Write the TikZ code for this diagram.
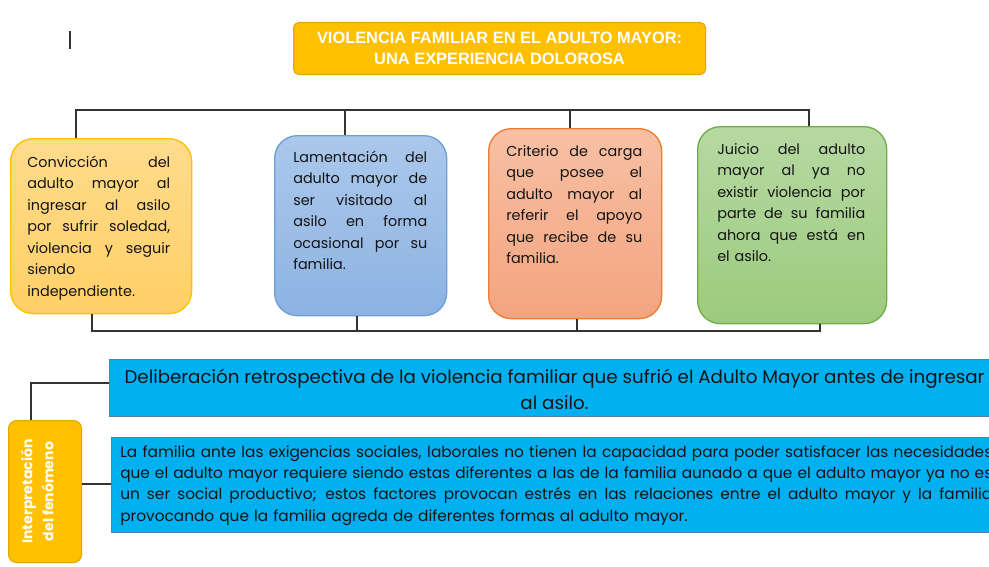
\documentclass[tikz,border=0pt]{standalone}
\usepackage{fontspec}
\setmainfont{Poppins}
\newfontfamily\titlefont{Liberation Sans}
\newlength\jw
\newcommand\jl[1]{\leavevmode\hbox to \jw{\spaceskip=\fontdimen2\font plus 1fil minus \fontdimen4\font\relax #1}}
\definecolor{gold}{HTML}{FFC000}
\definecolor{goldedge}{HTML}{E0A800}
\definecolor{cyanbox}{HTML}{00B0F0}
\definecolor{cyanedge}{HTML}{5A7FA6}
\definecolor{linec}{HTML}{333333}
\definecolor{txt}{HTML}{141414}
\definecolor{yTop}{HTML}{FFDB8C}
\definecolor{yBot}{HTML}{FFD066}
\definecolor{bEdge}{HTML}{6C9FD6}
\definecolor{bTop}{HTML}{ABC8EB}
\definecolor{bBot}{HTML}{8DB3E2}
\definecolor{oEdge}{HTML}{ED7D31}
\definecolor{oTop}{HTML}{F7C0A4}
\definecolor{oBot}{HTML}{F4A47F}
\definecolor{gEdge}{HTML}{70AD47}
\definecolor{gTop}{HTML}{B6D9A2}
\definecolor{gBot}{HTML}{9CCA7D}
\begin{document}
\begin{tikzpicture}[x=0.75pt,y=-0.75pt,
  conn/.style={draw=linec, line width=1pt},
  card/.style={draw, rounded corners=17pt, line width=1pt, anchor=north west, inner sep=0pt},
  cardtext/.style={anchor=north west, inner sep=0pt, align=left, text=txt,
    font=\fontsize{10.8}{16.1}\selectfont},
  bluebox/.style={draw=cyanedge, fill=cyanbox, line width=0.8pt, anchor=north west, inner sep=0pt},
]
\useasboundingbox (0,0) rectangle (989,567);
\fill[white] (0,0) rectangle (989,567);

% cursor mark
\draw[line width=1pt, black!80] (70,31) -- (70,49);

% title
\node[draw=goldedge, fill=gold, rounded corners=4pt, line width=0.8pt, anchor=north west, inner sep=0pt,
  minimum width={412*0.75pt}, minimum height={52*0.75pt}] (title) at (293,22) {};
\node[text=white, align=center, inner sep=0pt, font=\titlefont\bfseries\fontsize{12.3}{15.6}\selectfont]
  (titletext) at (title.center) {VIOLENCIA FAMILIAR EN EL ADULTO MAYOR:\\UNA EXPERIENCIA DOLOROSA};

% four cards
\node[card, draw=gold, top color=yTop, bottom color=yBot,
  minimum width={181*0.75pt}, minimum height={175*0.75pt}] (b1) at (10,138) {};
\node[card, draw=bEdge, top color=bTop, bottom color=bBot,
  minimum width={172*0.75pt}, minimum height={180*0.75pt}] (b2) at (274,135) {};
\node[card, draw=oEdge, top color=oTop, bottom color=oBot,
  minimum width={173*0.75pt}, minimum height={190*0.75pt}] (b3) at (488,128) {};
\node[card, draw=gEdge, top color=gTop, bottom color=gBot,
  minimum width={189*0.75pt}, minimum height={197*0.75pt}] (b4) at (697,126) {};

\node[cardtext, text width={143*0.75pt}, execute at begin node={\setlength\jw{107.25pt}}] (t1) at (27,152)
  {\strut\jl{Convicción del}\\\jl{adulto mayor al}\\\jl{ingresar al asilo}\\\jl{por sufrir soledad,}\\\jl{violencia y seguir}\\siendo\\independiente.};
\node[cardtext, text width={134*0.75pt}, execute at begin node={\setlength\jw{100.5pt}}] (t2) at (293,147)
  {\strut\jl{Lamentación del}\\\jl{adulto mayor de}\\\jl{ser visitado al}\\\jl{asilo en forma}\\\jl{ocasional por su}\\familia.};
\node[cardtext, text width={136*0.75pt}, execute at begin node={\setlength\jw{102pt}}] (t3) at (506,141)
  {\strut\jl{Criterio de carga}\\\jl{que posee el}\\\jl{adulto mayor al}\\\jl{referir el apoyo}\\\jl{que recibe de su}\\familia.};
\node[cardtext, text width={148*0.75pt}, execute at begin node={\setlength\jw{111pt}}] (t4) at (717,139)
  {\strut\jl{Juicio del adulto}\\\jl{mayor al ya no}\\\jl{existir violencia por}\\\jl{parte de su familia}\\\jl{ahora que está en}\\el asilo.};

% top bus
\coordinate (u1) at (76,110);
\coordinate (u2) at (345,110);
\coordinate (u3) at (570,110);
\coordinate (u4) at (809,110);
\draw[conn] (b1.north -| u1) -- (u1) -- (u4) -- (b4.north -| u4);
\draw[conn] (u2) -- (b2.north -| u2);
\draw[conn] (u3) -- (b3.north -| u3);

% bottom bus
\coordinate (d1) at (92,331);
\coordinate (d2) at (357,331);
\coordinate (d3) at (577,331);
\coordinate (d4) at (820,331);
\draw[conn] (b1.south -| d1) -- (d1) -- (d4) -- (b4.south -| d4);
\draw[conn] (d2) -- (b2.south -| d2);
\draw[conn] (d3) -- (b3.south -| d3);

% lower part
\node[bluebox, minimum width={890*0.75pt}, minimum height={57*0.75pt}] (del) at (109,359) {};
\node[align=center, inner sep=0pt, text=txt, font=\fontsize{13.7}{19.5}\selectfont]
  (deltext) at ([yshift=-1pt]del.center) {Deliberación retrospectiva de la violencia familiar que sufrió el Adulto Mayor antes de ingresar\\al asilo.};

\node[bluebox, minimum width={890*0.75pt}, minimum height={95*0.75pt}] (fam) at (111,437) {};
\node[cardtext, text width={872*0.75pt}, font=\fontsize{11.5}{16}\selectfont,
  execute at begin node={\setlength\jw{654pt}}] (famtext) at (120,442)
  {\strut\jl{La familia ante las exigencias sociales, laborales no tienen la capacidad para poder satisfacer las necesidades}\\
   \jl{que el adulto mayor requiere siendo estas diferentes a las de la familia aunado a que el adulto mayor ya no es}\\
   \jl{un ser social productivo; estos factores provocan estrés en las relaciones entre el adulto mayor y la familia}\\
   provocando que la familia agreda de diferentes formas al adulto mayor.};

\node[draw=goldedge, fill=gold, rounded corners=6pt, line width=0.8pt, anchor=north west, inner sep=0pt,
  minimum width={73*0.75pt}, minimum height={142*0.75pt}] (lab) at (8,420) {};
\node[rotate=90, align=center, text=white, inner sep=0pt, font=\bfseries\fontsize{10.5}{15.8}\selectfont]
  (labtext) at ([xshift=-6pt]lab.center) {Interpretación\\del fenómeno};

\coordinate (e1) at (31,383);
\coordinate (e2) at (81,484);
\draw[conn] (lab.north -| e1) -- (e1) -- (e1 -| del.west);
\draw[conn] (e2 -| lab.east) -- (e2 -| fam.west);
\end{tikzpicture}
\end{document}
